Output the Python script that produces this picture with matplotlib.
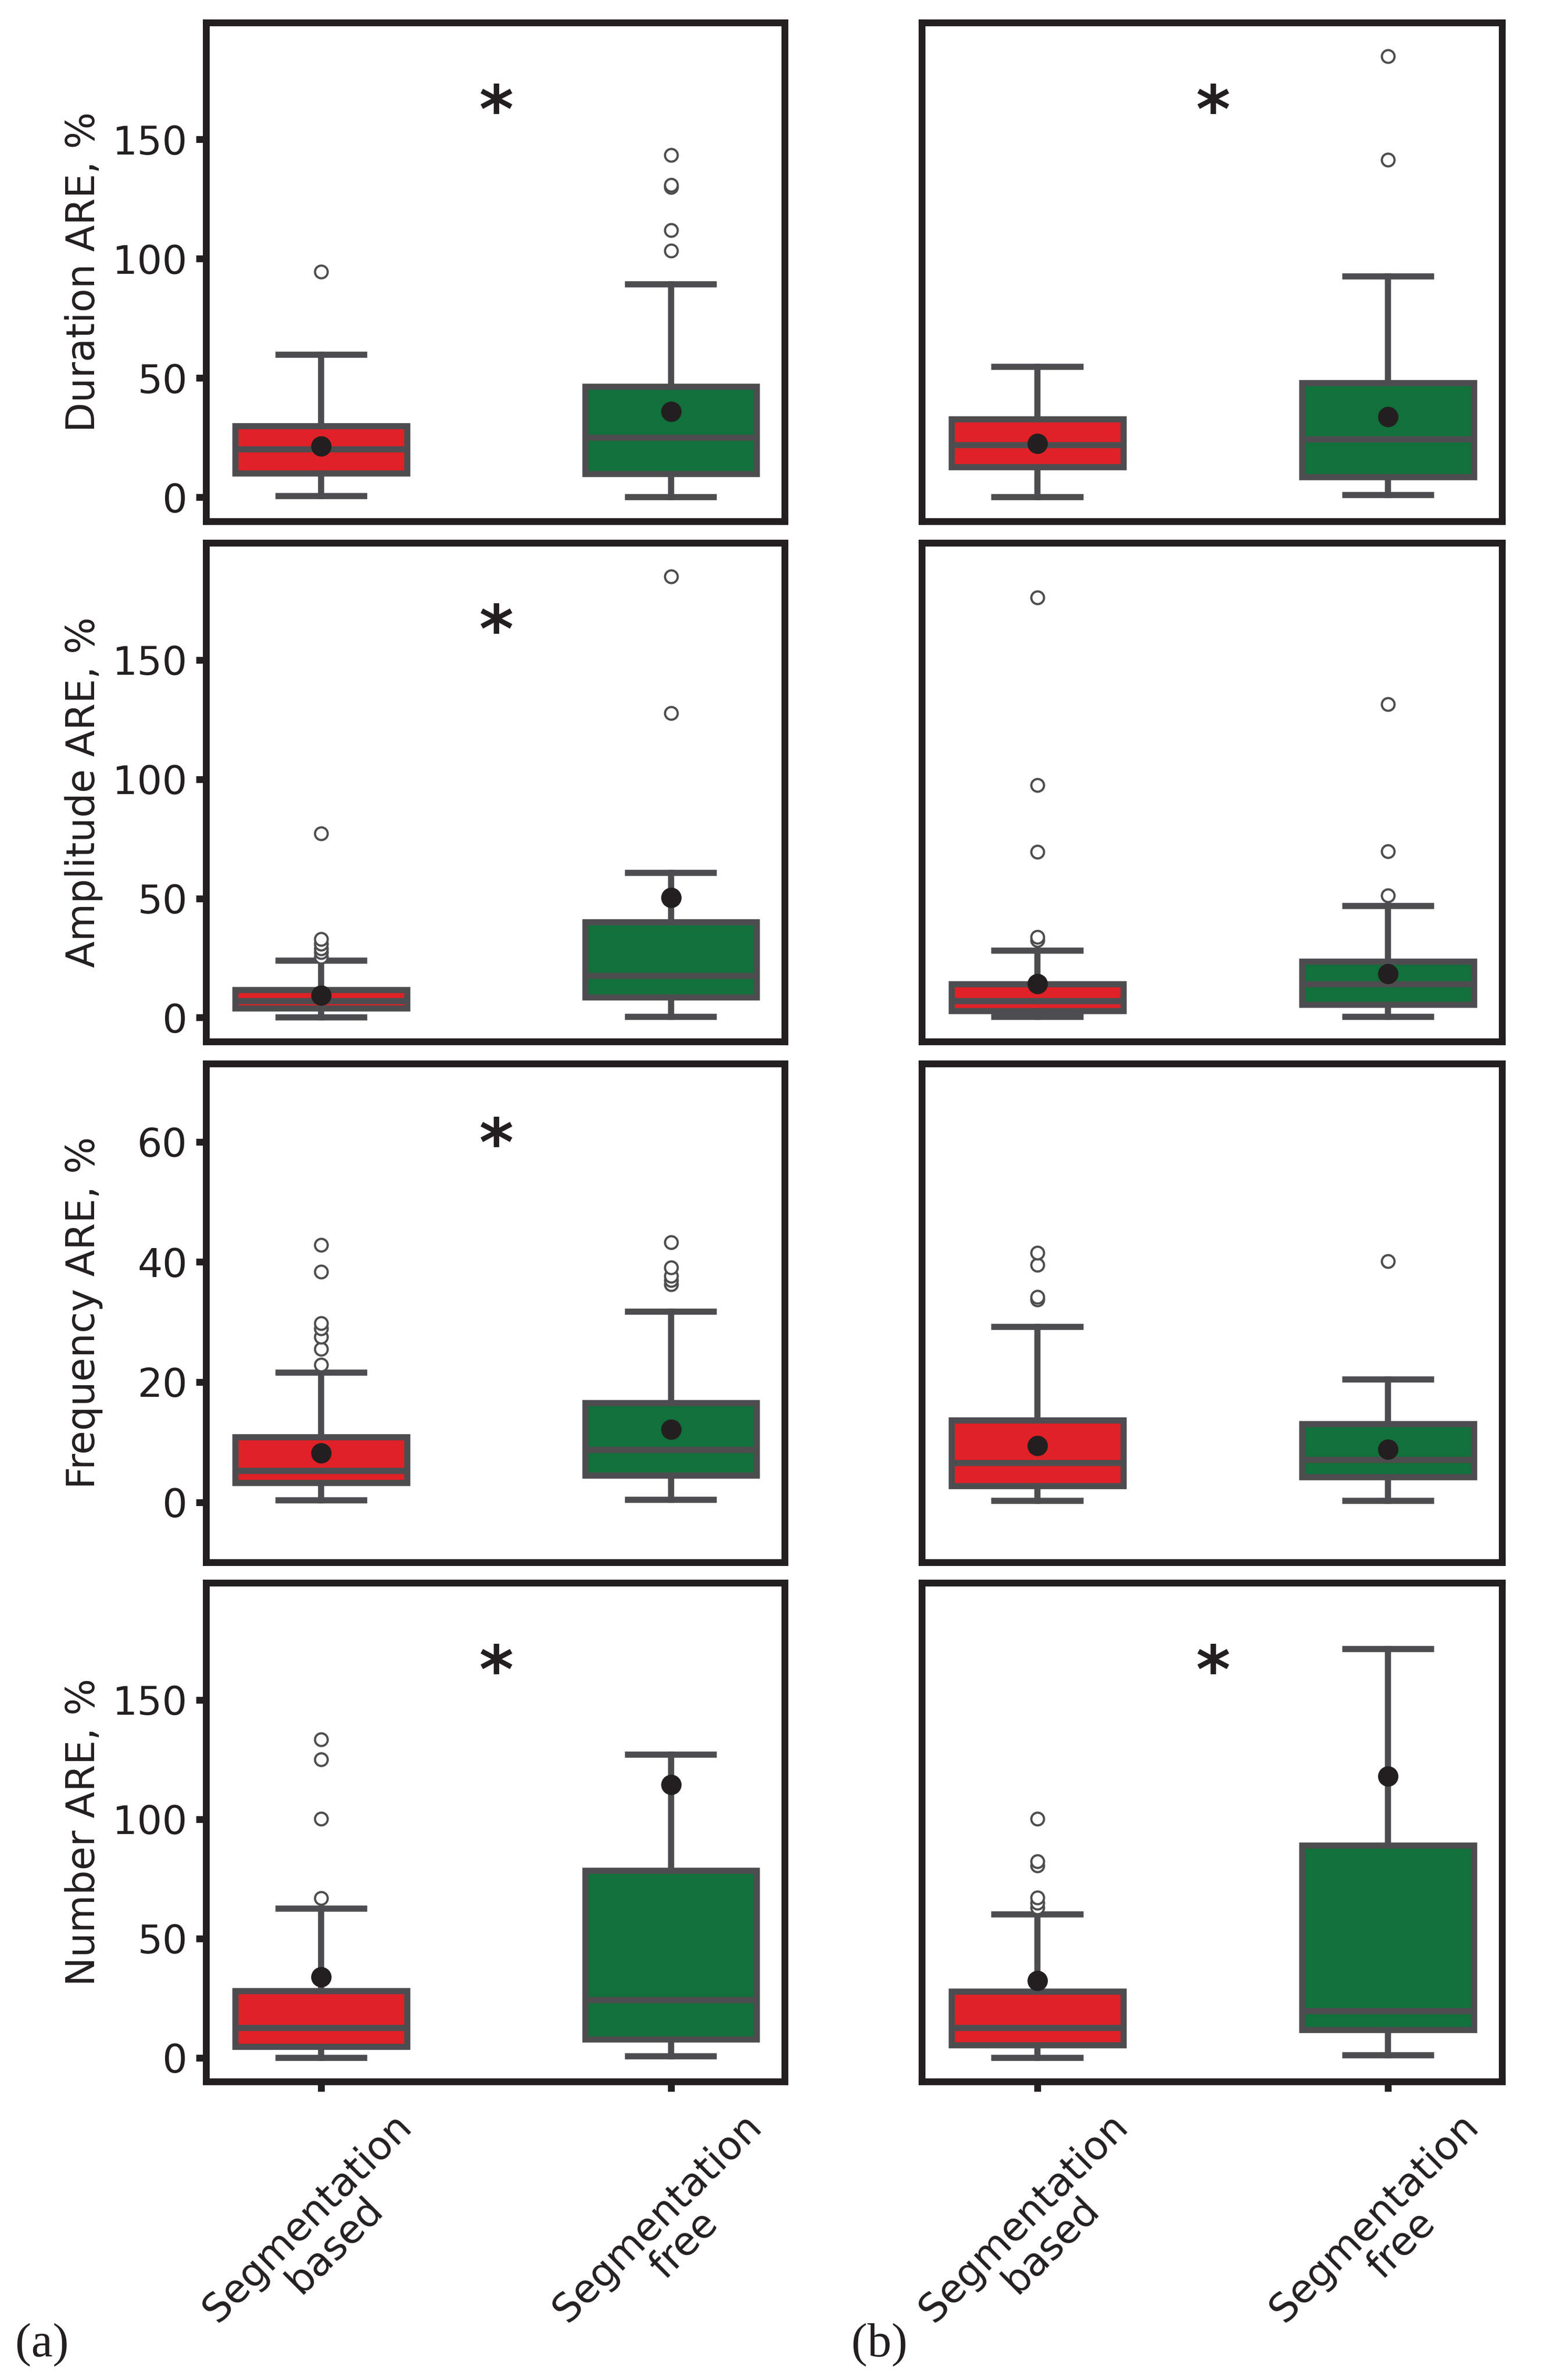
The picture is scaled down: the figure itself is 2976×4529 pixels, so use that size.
import matplotlib
matplotlib.use("Agg")
import matplotlib.pyplot as plt

plt.rcParams.update({
    "font.family": "DejaVu Sans", "font.size": 18,
    "text.color": "#231f20", "axes.labelcolor": "#231f20",
    "xtick.color": "#231f20", "ytick.color": "#231f20",
})

# ── Data ────────────────────────────────────────────────────
YLABELS = ["Duration ARE, %", "Amplitude ARE, %", "Frequency ARE, %", "Number ARE, %"]
GROUPS = ["Segmentation\nbased", "Segmentation\nfree"]
PANELS = ["(a)", "(b)"]
YTICKS = [[0, 50, 100, 150], [0, 50, 100, 150], [0, 20, 40, 60], [0, 50, 100, 150]]
YLIMS = [(-10, 199), (-10, 199), (-10, 73), (-10, 199)]

# indexing: [row][panel][group]
WHISLO = [[[0.6, 0.0], [0.0, 1.0]],
          [[0.0, 0.3], [0.3, 0.3]],
          [[0.3, 0.4], [0.2, 0.2]],
          [[0.0, 0.6], [0.0, 1.0]]]
Q1 = [[[10.1, 9.8], [12.7, 8.4]],
      [[3.9, 8.4], [2.8, 5.3]],
      [[3.2, 4.4], [2.7, 4.2]],
      [[4.5, 7.6], [5.2, 11.5]]]
MED = [[[20.1, 25.0], [21.9, 24.4]],
       [[7.0, 17.5], [7.0, 14.0]],
       [[5.2, 8.7], [6.5, 7.0]],
       [[12.5, 24.1], [12.5, 19.6]]]
Q3 = [[[29.9, 46.3], [32.8, 47.9]],
      [[11.5, 40.0], [14.0, 23.5]],
      [[10.8, 16.5], [13.6, 13.0]],
      [[28.0, 78.4], [27.6, 88.9]]]
WHISHI = [[[59.7, 89.4], [54.8, 92.6]],
          [[23.8, 60.7], [28.0, 46.8]],
          [[21.6, 31.7], [29.2, 20.4]],
          [[62.4, 127.1], [60.1, 171.3]]]
MEAN = [[[21.5, 36.0], [22.6, 33.8]],
        [[9.3, 50.4], [14.3, 18.5]],
        [[8.2, 12.1], [9.4, 8.8]],
        [[33.9, 114.5], [32.2, 118.0]]]
FLIERS = [[[[94.6], [103.4, 112.0, 130.0, 131.0, 143.4]],
           [[], [141.6, 184.9]]],
          [[[25.5, 27.5, 29.0, 31.0, 33.0, 77.1], [127.6, 185.0]],
           [[32.5, 33.9, 69.4, 97.4, 176.2], [51.2, 69.8, 131.3]]],
          [[[22.9, 25.5, 27.5, 28.9, 29.8, 38.4, 42.8], [36.3, 37.0, 37.7, 39.1, 43.3]],
           [[33.7, 34.2, 39.5, 41.5], [40.1]]],
          [[[66.9, 100.2, 125.0, 133.4], []],
           [[63.0, 64.8, 67.1, 80.6, 82.3, 100.2], []]]]
SIGNIF = [[True, True], [True, False], [True, False], [True, True]]
STAR_Y = [166.7, 167.0, 61.5, 166.8]

# ── Style ───────────────────────────────────────────────────
BOX_COLORS = ["#e02127", "#12703a"]
LINE = "#4d4d4f"
DARK = "#231f20"
LW = 2.8

fig = plt.figure(figsize=(2976 / 300, 4529 / 300), dpi=300)

ROW_BOTTOM = [0.7810, 0.5624, 0.3436, 0.1254]
ROW_HEIGHT = 0.2095
COL_LEFT = [0.1317, 0.5894]
COL_WIDTH = [0.3700, 0.3710]

for r in range(4):
    for p in range(2):
        ax = fig.add_axes([COL_LEFT[p], ROW_BOTTOM[r], COL_WIDTH[p], ROW_HEIGHT])
        stats_list = []
        for g in range(2):
            stats_list.append({
                "whislo": WHISLO[r][p][g], "q1": Q1[r][p][g], "med": MED[r][p][g],
                "q3": Q3[r][p][g], "whishi": WHISHI[r][p][g], "mean": MEAN[r][p][g],
                "fliers": FLIERS[r][p][g], "label": GROUPS[g],
            })
        bp = ax.bxp(stats_list, positions=[0, 1], widths=0.49, patch_artist=True,
                    showmeans=True, manage_ticks=False,
                    boxprops=dict(edgecolor=LINE, linewidth=LW),
                    medianprops=dict(color=LINE, linewidth=LW),
                    whiskerprops=dict(color=LINE, linewidth=LW),
                    capprops=dict(color=LINE, linewidth=LW),
                    meanprops=dict(marker="o", markerfacecolor=DARK, markeredgecolor=DARK,
                                   markersize=8.5, markeredgewidth=0.8),
                    flierprops=dict(marker="o", markerfacecolor="white", markeredgecolor=LINE,
                                    markersize=5.8, markeredgewidth=1.0))
        for patch, c in zip(bp["boxes"], BOX_COLORS):
            patch.set_facecolor(c)
        for m in bp["means"]:
            m.set_zorder(5)

        ax.set_xlim(-0.33, 1.325)
        ax.set_ylim(*YLIMS[r])
        for s in ax.spines.values():
            s.set_linewidth(3.1)
            s.set_color(DARK)
        ax.tick_params(width=3.1, length=4.5, labelsize=18, pad=4)

        if p == 0:
            ax.set_yticks(YTICKS[r])
            ax.set_ylabel(YLABELS[r], fontsize=17.7)
            ax.yaxis.set_label_coords(-0.178, 0.5)
        else:
            ax.set_yticks([])

        if r == 3:
            ax.set_xticks([0, 1])
            ax.set_xticklabels(GROUPS, rotation=45, ha="center", fontsize=18,
                               linespacing=1.0)
            ax.tick_params(axis="x", pad=7)
        else:
            ax.set_xticks([])

        if SIGNIF[r][p]:
            ax.annotate("*", (0.5, STAR_Y[r]), xytext=(0, -15), textcoords="offset points",
                        ha="center", va="baseline", fontsize=30, fontweight="bold", color=DARK)

fig.text(0.0097, 0.0148, PANELS[0], family="Liberation Serif", fontsize=22, va="center", ha="left")
fig.text(0.5444, 0.0148, PANELS[1], family="Liberation Serif", fontsize=22, va="center", ha="left")

fig.savefig("out.png", dpi=300)
